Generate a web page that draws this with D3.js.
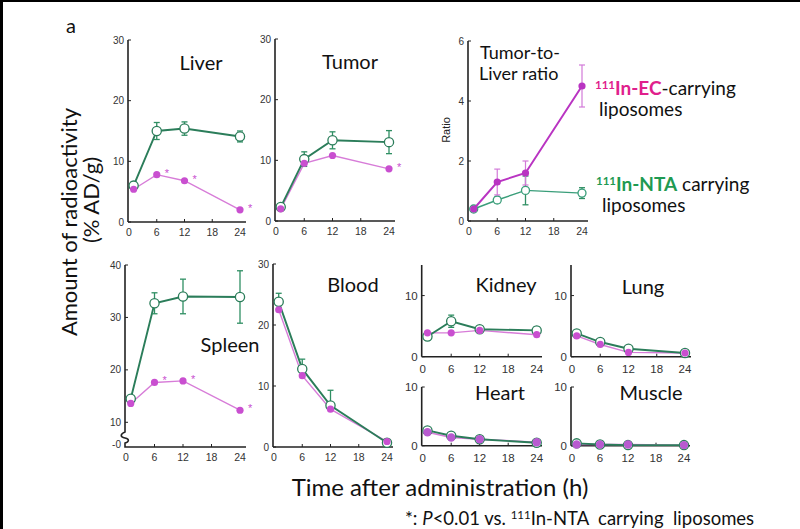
<!DOCTYPE html>
<html><head><meta charset="utf-8">
<script src="https://cdn.jsdelivr.net/npm/d3@7"></script>
<style>body{margin:0;background:#fff} svg{display:block}</style>
</head><body>
<svg id="c" width="800" height="529"></svg>
<script>
// ---------- DATA ----------
const times = [1, 6, 12, 24];
const xTicks = [0, 6, 12, 18, 24];

const liverNTA = [6.0, 15.0, 15.4, 14.1];
const liverNTAErr = [0.6, 1.4, 1.1, 0.9];
const liverEC = [5.4, 7.8, 6.8, 2.0];
const liverSig = [0, 1, 1, 1];

const tumorNTA = [2.3, 10.2, 13.3, 13.0];
const tumorNTAErr = [0.4, 1.2, 1.4, 1.9];
const tumorEC = [2.0, 9.5, 10.8, 8.6];
const tumorSig = [0, 0, 0, 1];

const ratioNTA = [0.4, 0.7, 1.02, 0.93];
const ratioNTAErr = [0.05, 0.1, 0.48, 0.18];
const ratioEC = [0.4, 1.3, 1.6, 4.5];
const ratioECErr = [0.05, 0.43, 0.4, 0.7];

const spleenNTA = [14.5, 32.7, 34.0, 33.9];
const spleenNTAErr = [0.5, 2.0, 3.3, 5.0];
const spleenEC = [13.6, 17.6, 17.9, 12.3];
const spleenSig = [0, 1, 1, 1];

const bloodNTA = [23.8, 12.8, 6.8, 0.7];
const bloodNTAErr = [1.4, 1.6, 2.5, 0.2];
const bloodEC = [22.5, 11.7, 6.2, 0.9];

const kidneyNTA = [3.3, 5.8, 4.5, 4.3];
const kidneyNTAErr = [0.6, 1.0, 0.4, 0.6];
const kidneyEC = [3.9, 3.9, 4.3, 3.6];

const lungNTA = [3.8, 2.4, 1.3, 0.6];
const lungNTAErr = [0.5, 0.3, 0.4, 0.1];
const lungEC = [3.4, 2.0, 0.7, 0.6];

const heartNTA = [2.6, 1.7, 1.1, 0.5];
const heartNTAErr = [0.2, 0.2, 0.1, 0.1];
const heartEC = [2.3, 1.4, 1.1, 0.6];

const muscleNTA = [0.4, 0.2, 0.1, 0.1];
const muscleNTAErr = [0.1, 0.05, 0.05, 0.05];
const muscleEC = [0.2, 0.2, 0.2, 0.1];

const yTicks30 = [0, 10, 20, 30];
const yTicksRatio = [0, 2, 4, 6];
const yTicksSpleen = [10, 20, 30, 40];
const yTicksSmall = [0, 10];

// ---------- STYLE ----------
const TF = "Lato, 'Open Sans', sans-serif";
const NF = "'Liberation Sans', Arial, sans-serif";
const GREEN = "#2b7d5a", GREEN_ERR = "#2f8f63";
const MAG = "#d77cd8", MAG_DOT = "#c94fd0";

const svg = d3.select("#c");
svg.append("rect").attr("width", 800).attr("height", 529).attr("fill", "#fff");

const panels = [
  {title:"Liver", nta:liverNTA, ntaErr:liverNTAErr, ec:liverEC, sig:liverSig,
   dom:[0,30], ticks:yTicks30, x0:128, x24:240, xEnd:246, yb:222, yt:40, tx:201, ty:70},
  {title:"Tumor", nta:tumorNTA, ntaErr:tumorNTAErr, ec:tumorEC, sig:tumorSig,
   dom:[0,30], ticks:yTicks30, x0:275, x24:389, xEnd:395, yb:221, yt:39, tx:350, ty:69},
  {title:"Blood", nta:bloodNTA, ntaErr:bloodNTAErr, ec:bloodEC,
   dom:[0,30], ticks:yTicks30, x0:273, x24:387, xEnd:393, yb:447, yt:264, tx:353, ty:292, errUp:true},
  {title:"Kidney", nta:kidneyNTA, ntaErr:kidneyNTAErr, ec:kidneyEC,
   dom:[0,15], ticks:yTicksSmall, x0:421.7, x24:536.7, xEnd:542, yb:356.7, yt:265, tx:506, ty:292, small:true},
  {title:"Lung", nta:lungNTA, ntaErr:lungNTAErr, ec:lungEC,
   dom:[0,15], ticks:yTicksSmall, x0:571, x24:685, xEnd:691, yb:356.7, yt:265, tx:643, ty:294, small:true},
  {title:"Heart", nta:heartNTA, ntaErr:heartNTAErr, ec:heartEC,
   dom:[0,10], ticks:yTicksSmall, x0:421.7, x24:536.7, xEnd:542, yb:445.7, yt:387, tx:500, ty:400, small:true, bigDot:true},
  {title:"Muscle", nta:muscleNTA, ntaErr:muscleNTAErr, ec:muscleEC,
   dom:[0,10], ticks:yTicksSmall, x0:571, x24:684, xEnd:690, yb:445.7, yt:387, tx:651, ty:400, small:true, bigDot:true}
];

function drawAxes(g, x, y, p, tickVals, yTop) {
  g.append("line").attr("x1", p.x0).attr("x2", p.x0).attr("y1", yTop).attr("y2", p.yb)
    .attr("stroke", "#222").attr("stroke-width", 1.6);
  g.append("line").attr("x1", p.x0).attr("x2", p.xEnd).attr("y1", p.yb).attr("y2", p.yb)
    .attr("stroke", "#222").attr("stroke-width", 1.6);
  const fs = p.small ? 11.5 : 10;
  tickVals.forEach(v => {
    g.append("line").attr("x1", p.x0).attr("x2", p.x0 + 3).attr("y1", y(v)).attr("y2", y(v))
      .attr("stroke", "#222").attr("stroke-width", 1);
    g.append("text").attr("x", p.x0 - 4).attr("y", y(v) + fs * 0.36).attr("text-anchor", "end")
      .attr("font-family", NF).attr("font-size", fs).attr("fill", "#333").text(v);
  });
  xTicks.forEach(v => {
    if (v > 0 && v < 24) g.append("line").attr("x1", x(v)).attr("x2", x(v)).attr("y1", p.yb).attr("y2", p.yb - 3)
      .attr("stroke", "#222").attr("stroke-width", 1);
    g.append("text").attr("x", x(v)).attr("y", p.yb + (p.small ? 16 : 14)).attr("text-anchor", "middle")
      .attr("font-family", NF).attr("font-size", p.small ? 11.5 : 10.5).attr("fill", "#333").text(v);
  });
}

function drawSeries(g, x, y, p, ratioMode) {
  const line = d3.line().x((d, i) => x(times[i])).y(d => y(d));
  const gc = ratioMode ? "#3a9e7a" : GREEN;
  const mc = ratioMode ? "#b934c2" : MAG;
  const md = ratioMode ? "#b934c2" : MAG_DOT;
  if (!ratioMode) {
    g.append("path").attr("d", line(p.ec)).attr("fill", "none").attr("stroke", mc).attr("stroke-width", 1.4);
  }
  g.append("path").attr("d", line(p.nta)).attr("fill", "none").attr("stroke", gc).attr("stroke-width", ratioMode ? 1.4 : 1.9);
  p.nta.forEach((v, i) => {
    const e = p.ntaErr[i], xx = x(times[i]);
    const lo = p.errUp ? v : v - e;
    g.append("line").attr("x1", xx).attr("x2", xx).attr("y1", y(v + e)).attr("y2", y(lo))
      .attr("stroke", GREEN_ERR).attr("stroke-width", 1.3);
    [v + e].concat(p.errUp ? [] : [v - e]).forEach(c => {
      g.append("line").attr("x1", xx - 3).attr("x2", xx + 3).attr("y1", y(c)).attr("y2", y(c))
        .attr("stroke", GREEN_ERR).attr("stroke-width", 1.3);
    });
  });
  g.selectAll(null).data(p.nta).enter().append("circle")
    .attr("cx", (d, i) => x(times[i])).attr("cy", d => y(d)).attr("r", ratioMode ? 4 : 4.6)
    .attr("fill", "#fff").attr("stroke", gc).attr("stroke-width", 1.3);
  if (ratioMode) {
    g.append("path").attr("d", line(p.ec)).attr("fill", "none").attr("stroke", mc).attr("stroke-width", 2);
    p.ec.forEach((v, i) => {
      const e = p.ecErr[i], xx = x(times[i]);
      if (e < 0.1) return;
      g.append("line").attr("x1", xx).attr("x2", xx).attr("y1", y(v + e)).attr("y2", y(v - e))
        .attr("stroke", "#d27ad8").attr("stroke-width", 1.2);
      [v + e, v - e].forEach(c => g.append("line").attr("x1", xx - 3).attr("x2", xx + 3)
        .attr("y1", y(c)).attr("y2", y(c)).attr("stroke", "#d27ad8").attr("stroke-width", 1.2));
    });
  }
  g.selectAll(null).data(p.ec).enter().append("circle")
    .attr("cx", (d, i) => x(times[i])).attr("cy", d => y(d)).attr("r", p.bigDot ? 4.2 : 3.6)
    .attr("fill", p.bigDot ? "#b85ad0" : md);
  if (p.sig) p.sig.forEach((s, i) => {
    if (!s) return;
    g.append("text").attr("x", x(times[i]) + 8).attr("y", y(p.ec[i]) + 2)
      .attr("font-family", NF).attr("font-size", 11).attr("fill", MAG_DOT).text("*");
  });
}

panels.forEach(p => {
  const g = svg.append("g");
  const x = d3.scaleLinear().domain([0, 24]).range([p.x0 + 1, p.x24]);
  const y = d3.scaleLinear().domain(p.dom).range([p.yb, p.yt]);
  drawAxes(g, x, y, p, p.ticks, p.yt);
  drawSeries(g, x, y, p, false);
  g.append("text").attr("x", p.tx).attr("y", p.ty).attr("text-anchor", "middle")
    .attr("font-family", TF).attr("font-size", 20).attr("fill", "#111").text(p.title);
});

// Spleen (broken axis)
{
  const p = {nta:spleenNTA, ntaErr:spleenNTAErr, ec:spleenEC, sig:spleenSig,
             x0:125, x24:240, xEnd:246, yb:447, yt:265};
  const g = svg.append("g");
  const x = d3.scaleLinear().domain([0, 24]).range([p.x0 + 1, p.x24]);
  const y = d3.scaleLinear().domain([10, 40]).range([422.3, 265]);
  g.append("path").attr("d", `M${p.x0},${p.yt}V432 C${p.x0 - 5},434 ${p.x0 - 5},437 ${p.x0},438 S${p.x0 + 4},442 ${p.x0},443 V${p.yb} H${p.xEnd}`)
    .attr("fill", "none").attr("stroke", "#222").attr("stroke-width", 1.6);
  yTicksSpleen.forEach(v => {
    g.append("line").attr("x1", p.x0).attr("x2", p.x0 + 3).attr("y1", y(v)).attr("y2", y(v)).attr("stroke", "#222");
    g.append("text").attr("x", p.x0 - 4).attr("y", y(v) + 3.6).attr("text-anchor", "end")
      .attr("font-family", NF).attr("font-size", 10).attr("fill", "#333").text(v);
  });
  g.append("text").attr("x", p.x0 - 4).attr("y", p.yb + 1).attr("text-anchor", "end")
    .attr("font-family", NF).attr("font-size", 10).attr("fill", "#333").text("-0");
  xTicks.forEach(v => {
    if (v > 0 && v < 24) g.append("line").attr("x1", x(v)).attr("x2", x(v)).attr("y1", p.yb).attr("y2", p.yb - 3).attr("stroke", "#222");
    g.append("text").attr("x", x(v)).attr("y", p.yb + 14).attr("text-anchor", "middle")
      .attr("font-family", NF).attr("font-size", 10.5).attr("fill", "#333").text(v);
  });
  drawSeries(g, x, y, p, false);
  g.append("text").attr("x", 230).attr("y", 352).attr("text-anchor", "middle")
    .attr("font-family", TF).attr("font-size", 20).attr("fill", "#111").text("Spleen");
}

// Tumor-to-Liver ratio
{
  const p = {nta:ratioNTA, ntaErr:ratioNTAErr, ec:ratioEC, ecErr:ratioECErr,
             x0:468, x24:582, xEnd:588, yb:221, yt:41};
  const g = svg.append("g");
  const x = d3.scaleLinear().domain([0, 24]).range([p.x0 + 1, p.x24]);
  const y = d3.scaleLinear().domain([0, 6]).range([p.yb, p.yt]);
  drawAxes(g, x, y, p, yTicksRatio, p.yt);
  drawSeries(g, x, y, p, true);
  g.append("text").attr("transform", "translate(450,130) rotate(-90)").attr("text-anchor", "middle")
    .attr("font-family", NF).attr("font-size", 11).attr("fill", "#222").text("Ratio");
  g.append("text").attr("x", 480).attr("y", 59).attr("font-family", TF).attr("font-size", 18).attr("fill", "#111").text("Tumor-to-");
  g.append("text").attr("x", 479).attr("y", 80).attr("font-family", TF).attr("font-size", 18).attr("fill", "#111").text("Liver ratio");
}

// Legend
function legend(x, y, name, color, rest) {
  const t = svg.append("text").attr("x", x).attr("y", y).attr("font-family", TF).attr("font-size", 19)
    .attr("fill", "#111").style("white-space", "pre");
  t.append("tspan").attr("font-size", 11.5).attr("dy", -6).attr("font-weight", "bold").attr("fill", color).text("111");
  t.append("tspan").attr("dy", 6).attr("font-weight", "bold").attr("fill", color).text(name);
  t.append("tspan").text(rest);
}
legend(595, 95, "In-EC", "#e0208c", "-carrying");
svg.append("text").attr("x", 599).attr("y", 116).attr("font-family", TF).attr("font-size", 19).attr("fill", "#111").text("liposomes");
legend(596, 191, "In-NTA", "#1f9a52", " carrying");
svg.append("text").attr("x", 602).attr("y", 212).attr("font-family", TF).attr("font-size", 19).attr("fill", "#111").text("liposomes");

// Overall labels
svg.append("text").attr("x", 66).attr("y", 33).attr("font-family", TF).attr("font-size", 20).attr("fill", "#111").text("a");
svg.append("text").attr("transform", "translate(77,222) rotate(-90)").attr("text-anchor", "middle")
  .attr("font-family", TF).attr("font-size", 22).attr("fill", "#111").text("Amount of radioactivity");
svg.append("text").attr("transform", "translate(99,200) rotate(-90)").attr("text-anchor", "middle")
  .attr("font-family", TF).attr("font-size", 22).attr("fill", "#111").text("(% AD/g)");
svg.append("text").attr("x", 440).attr("y", 496).attr("text-anchor", "middle")
  .attr("font-family", TF).attr("font-size", 24).attr("fill", "#111").text("Time after administration (h)");
{
  const t = svg.append("text").attr("x", 405).attr("y", 525).attr("font-family", TF).attr("font-size", 18.5)
    .attr("fill", "#111").style("white-space", "pre");
  t.append("tspan").text("*: ");
  t.append("tspan").attr("font-style", "italic").text("P");
  t.append("tspan").text("<0.01 vs. ");
  t.append("tspan").attr("font-size", 11.5).attr("dy", -6).text("111");
  t.append("tspan").attr("dy", 6).text("In-NTA  carrying  liposomes");
}

// frame edges
svg.append("rect").attr("x", 0).attr("y", 0).attr("width", 800).attr("height", 2).attr("fill", "#000");
svg.append("rect").attr("x", 0).attr("y", 0).attr("width", 3).attr("height", 529).attr("fill", "#000");
</script>
</body></html>
